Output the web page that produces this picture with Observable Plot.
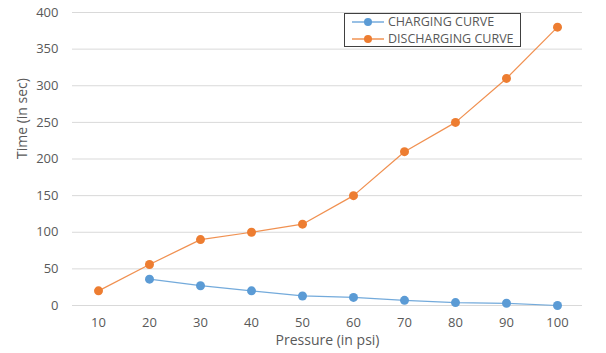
<!DOCTYPE html>
<html>
<head>
<meta charset="utf-8">
<script src="https://cdn.jsdelivr.net/npm/d3@7"></script>
<script src="https://cdn.jsdelivr.net/npm/@observablehq/plot@0.6"></script>
<style>
  html, body { margin: 0; padding: 0; background: #fff; }
  #wrap { position: relative; width: 606px; height: 353px; font-family: "Open Sans", "Liberation Sans", sans-serif; }
  #legend { position: absolute; left: 344px; top: 13px; width: 177px; height: 34px; border: 1px solid #404040; background: #fff; box-sizing: border-box; font-size: 12.5px; color: #595959; }
  .row { position: absolute; left: 7px; height: 15px; display: flex; align-items: center; white-space: nowrap; }
  .row span { margin-left: 4px; }
</style>
</head>
<body>
<div id="wrap"></div>
<script>
const pressures = ["10", "20", "30", "40", "50", "60", "70", "80", "90", "100"];
const chargingPressures = ["20", "30", "40", "50", "60", "70", "80", "90", "100"];
const chargingTimes = [36, 27, 20, 13, 11, 7, 4, 3, 0];
const dischargingTimes = [20, 56, 90, 100, 111, 150, 210, 250, 310, 380];
const yTicks = [0, 50, 100, 150, 200, 250, 300, 350, 400];
const seriesNames = ["CHARGING CURVE", "DISCHARGING CURVE"];
const seriesColors = ["#5B9BD5", "#ED7D31"];

const charging = chargingPressures.map((p, i) => ({p, t: chargingTimes[i]}));
const discharging = pressures.map((p, i) => ({p, t: dischargingTimes[i]}));

const chart = Plot.plot({
  width: 606,
  height: 353,
  marginLeft: 72,
  marginRight: 24,
  marginTop: 12,
  marginBottom: 48,
  style: {fontFamily: '"Open Sans", "Liberation Sans", sans-serif', fontSize: "13px", color: "#595959", background: "#fff"},
  x: {type: "point", domain: pressures, padding: 0.5, label: null},
  y: {domain: [0, 400], label: null},
  marks: [
    Plot.gridY(yTicks, {stroke: "#d9d9d9", strokeOpacity: 1, strokeWidth: 1}),
    Plot.axisX({tickSize: 0, tickPadding: 12, fontSize: 13, label: null}),
    Plot.axisY(yTicks, {tickSize: 0, tickPadding: 14, fontSize: 13, label: null}),
    Plot.line(discharging, {x: "p", y: "t", stroke: seriesColors[1], strokeWidth: 1.25, strokeOpacity: 0.85}),
    Plot.dot(discharging, {x: "p", y: "t", fill: seriesColors[1], r: 4.5}),
    Plot.line(charging, {x: "p", y: "t", stroke: seriesColors[0], strokeWidth: 1.25, strokeOpacity: 0.85}),
    Plot.dot(charging, {x: "p", y: "t", fill: seriesColors[0], r: 4.5}),
    Plot.text(["Time (in sec)"], {frameAnchor: "left", dx: -50, rotate: -90, fontSize: 14, fill: "#595959"}),
    Plot.text(["Pressure (in psi)"], {frameAnchor: "bottom", dy: 39, fontSize: 14, fill: "#595959"})
  ]
});

const wrap = document.getElementById("wrap");
wrap.appendChild(chart);

const legend = document.createElement("div");
legend.id = "legend";
seriesNames.forEach((name, i) => {
  const row = document.createElement("div");
  row.className = "row";
  row.style.top = (i === 0 ? 0 : 17) + "px";
  row.innerHTML = `<svg width="32" height="10"><line x1="0" y1="5" x2="32" y2="5" stroke="${seriesColors[i]}" stroke-width="1.25"/><circle cx="16" cy="5" r="4" fill="${seriesColors[i]}"/></svg><span>${name}</span>`;
  legend.appendChild(row);
});
wrap.appendChild(legend);
</script>
</body>
</html>
